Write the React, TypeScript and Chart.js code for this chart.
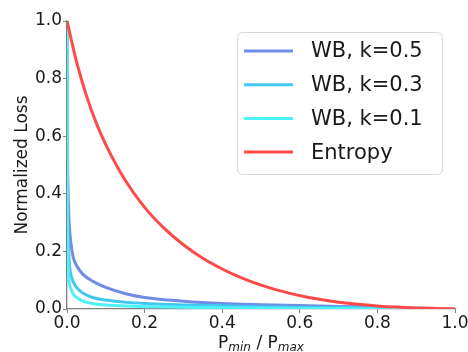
import React, { useEffect, useRef } from "react";
import { Chart, registerables } from "chart.js";

Chart.register(...registerables);

const FONT = "'DejaVu Sans', 'Liberation Sans', sans-serif";

// Data
const xWB = [0, 0.001, 0.003, 0.006, 0.01, 0.016, 0.025, 0.04, 0.068, 0.1, 0.154, 0.2, 0.3, 0.4, 0.5, 0.6, 0.7, 0.8, 0.9, 1.0];
const wbK05 = [1.0, 0.6, 0.4, 0.29, 0.23, 0.18, 0.15, 0.122, 0.095, 0.075, 0.052, 0.04, 0.027, 0.019, 0.015, 0.012, 0.009, 0.006, 0.003, 0];
const wbK03 = [1.0, 0.45, 0.25, 0.16, 0.12, 0.095, 0.074, 0.056, 0.039, 0.031, 0.023, 0.019, 0.014, 0.011, 0.008, 0.006, 0.005, 0.003, 0.0015, 0];
const wbK01 = [1.0, 0.3, 0.15, 0.09, 0.07, 0.052, 0.04, 0.028, 0.018, 0.014, 0.01, 0.008, 0.006, 0.004, 0.003, 0.002, 0.0015, 0.001, 0.0005, 0];

const xEntropy = [0, 0.025, 0.05, 0.075, 0.1, 0.15, 0.2, 0.25, 0.3, 0.35, 0.4, 0.45, 0.5, 0.55, 0.6, 0.65, 0.7, 0.75, 0.8, 0.85, 0.9, 0.95, 1.0];
const yEntropy = [1.0, 0.856, 0.741, 0.647, 0.571, 0.447, 0.353, 0.281, 0.223, 0.176, 0.139, 0.108, 0.083, 0.063, 0.0464, 0.0335, 0.0236, 0.0162, 0.0107, 0.0066, 0.0038, 0.0018, 0];

const seriesLabels = ["WB, k=0.5", "WB, k=0.3", "WB, k=0.1", "Entropy"];
const seriesColors = ["rgb(113,140,231)", "rgb(66,198,242)", "rgb(76,242,246)", "rgb(255,74,74)"];

const yTitle = "Normalized Loss";
const xTitleParts = ["P", "min", " / P", "max"];

const toPts = (xs: number[], ys: number[]) => xs.map((x, i) => ({ x, y: ys[i] }));

export default function App() {
  const ref = useRef<HTMLCanvasElement>(null);

  useEffect(() => {
    document.body.style.margin = "0";
    if (!ref.current) return;

    const boxLegend = {
      id: "boxLegend",
      afterDraw(chart: any) {
        const ctx = chart.ctx as CanvasRenderingContext2D;
        ctx.save();
        const x0 = 237.5, y0 = 32.5, w = 205, h = 142;
        ctx.beginPath();
        (ctx as any).roundRect(x0, y0, w, h, 5);
        ctx.fillStyle = "rgba(255,255,255,0.8)";
        ctx.fill();
        ctx.strokeStyle = "#d6d6d6";
        ctx.lineWidth = 1;
        ctx.stroke();
        chart.data.datasets.forEach((ds: any, i: number) => {
          const cy = 51 + i * 33.7;
          ctx.beginPath();
          ctx.moveTo(244, cy);
          ctx.lineTo(293, cy);
          ctx.strokeStyle = ds.borderColor;
          ctx.lineWidth = 3;
          ctx.stroke();
          ctx.fillStyle = "#1a1a1a";
          ctx.font = `21px ${FONT}`;
          ctx.textBaseline = "middle";
          ctx.textAlign = "left";
          ctx.fillText(ds.label, 311, cy + 1);
        });
        ctx.restore();
      },
    };

    const xTitle = {
      id: "xTitle",
      afterDraw(chart: any) {
        const ctx = chart.ctx as CanvasRenderingContext2D;
        const area = chart.chartArea;
        ctx.save();
        ctx.fillStyle = "#1a1a1a";
        ctx.textBaseline = "alphabetic";
        ctx.textAlign = "left";
        const big = `17px ${FONT}`;
        const small = `italic 12px ${FONT}`;
        const fonts = [big, small, big, small];
        const dy = [0, 3, 0, 3];
        let total = 0;
        const widths = xTitleParts.map((t, i) => {
          ctx.font = fonts[i];
          const wd = ctx.measureText(t).width;
          total += wd;
          return wd;
        });
        let x = (area.left + area.right) / 2 - total / 2;
        const base = 348;
        xTitleParts.forEach((t, i) => {
          ctx.font = fonts[i];
          ctx.fillText(t, x, base + dy[i]);
          x += widths[i];
        });
        ctx.restore();
      },
    };

    const chart = new Chart(ref.current, {
      type: "scatter",
      data: {
        datasets: [
          { label: seriesLabels[0], data: toPts(xWB, wbK05), borderColor: seriesColors[0], order: 4 },
          { label: seriesLabels[1], data: toPts(xWB, wbK03), borderColor: seriesColors[1], order: 3 },
          { label: seriesLabels[2], data: toPts(xWB, wbK01), borderColor: seriesColors[2], order: 2 },
          { label: seriesLabels[3], data: toPts(xEntropy, yEntropy), borderColor: seriesColors[3], order: 1 },
        ].map((d) => ({
          ...d,
          showLine: true,
          borderWidth: 3,
          pointRadius: 0,
          pointHoverRadius: 0,
          backgroundColor: d.borderColor,
          cubicInterpolationMode: "monotone" as const,
        })),
      },
      options: {
        animation: false,
        responsive: false,
        maintainAspectRatio: false,
        layout: { padding: { left: 0, right: 13, top: 21, bottom: 0 } },
        plugins: {
          legend: { display: false },
          tooltip: { enabled: false },
        },
        scales: {
          x: {
            type: "linear",
            min: 0,
            max: 1,
            afterFit: (s: any) => {
              s.height = 43;
              s.paddingLeft = 0;
              s.paddingRight = 0;
            },
            ticks: {
              stepSize: 0.2,
              color: "#1a1a1a",
              font: { family: FONT, size: 17 },
              padding: 0,
              maxRotation: 0,
              callback: (v: any) => Number(v).toFixed(1),
            },
            grid: { drawOnChartArea: false, drawTicks: true, tickLength: 4, color: "#808080" },
            border: { color: "#808080", width: 1.3 },
          },
          y: {
            type: "linear",
            min: 0,
            max: 1,
            afterFit: (s: any) => {
              s.width = 67;
              s.paddingTop = 0;
              s.paddingBottom = 0;
            },
            ticks: {
              stepSize: 0.2,
              color: "#1a1a1a",
              font: { family: FONT, size: 17 },
              padding: 1,
              callback: (v: any) => Number(v).toFixed(1),
            },
            grid: { drawOnChartArea: false, drawTicks: true, tickLength: 4, color: "#808080" },
            border: { color: "#808080", width: 1.3 },
            title: {
              display: true,
              text: yTitle,
              color: "#1a1a1a",
              font: { family: FONT, size: 17 },
              padding: { top: 12, bottom: 0 },
            },
          },
        },
      },
      plugins: [boxLegend, xTitle],
    });

    return () => chart.destroy();
  }, []);

  return (
    <div style={{ position: "absolute", left: 0, top: 0, width: 468, height: 352 }}>
      <canvas ref={ref} width={468} height={352} style={{ width: 468, height: 352 }} />
    </div>
  );
}
